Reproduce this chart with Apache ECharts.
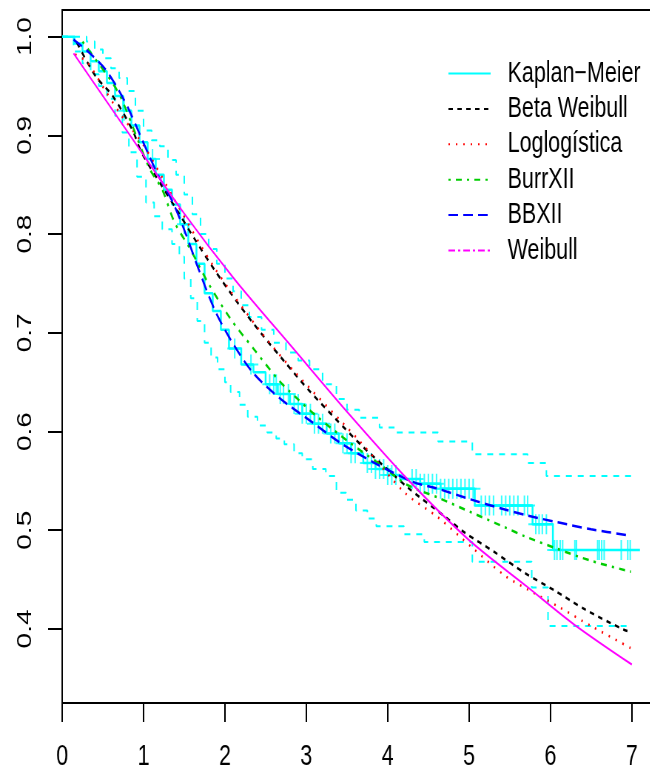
<!DOCTYPE html>
<html>
<head>
<meta charset="utf-8">
<script src="https://cdn.jsdelivr.net/npm/echarts@6/dist/echarts.min.js"></script>
<style>
  html, body { margin: 0; padding: 0; background: #fff; overflow: hidden; }
  #wrap { width: 650px; height: 771px; overflow: hidden; }
  /* the original plot is squeezed horizontally, so the chart is drawn wider and scaled */
  #chart { width: 878px; height: 771px; transform: scaleX(0.74); transform-origin: 0 0; }
</style>
</head>
<body>
<div id="wrap"><div id="chart"></div></div>
<script>
// tick labels
var xTicks = [0, 1, 2, 3, 4, 5, 6, 7];
var yTicks = [0.4, 0.5, 0.6, 0.7, 0.8, 0.9, 1.0];
var legendNames = ['Kaplan\u2212Meier', 'Beta Weibull', 'Loglog\u00edstica', 'BurrXII', 'BBXII', 'Weibull'];

// Kaplan-Meier step curve
var kmTime = [0, 0.15, 0.25, 0.35, 0.45, 0.55, 0.65, 0.75, 0.85, 0.95, 1.05, 1.15, 1.25, 1.35, 1.45, 1.55, 1.65, 1.75, 1.85, 1.95, 2.05, 2.2, 2.35, 2.5, 2.65, 2.8, 2.95, 3.1, 3.25, 3.4, 3.55, 3.7, 3.85, 4.0, 4.15, 4.4, 4.65, 5.07, 5.78, 6.03, 7.1];
var kmSurv = [1.0, 0.993, 0.985, 0.975, 0.965, 0.953, 0.94, 0.925, 0.91, 0.893, 0.876, 0.86, 0.845, 0.83, 0.81, 0.79, 0.77, 0.74, 0.722, 0.703, 0.684, 0.668, 0.66, 0.648, 0.638, 0.628, 0.618, 0.608, 0.598, 0.588, 0.578, 0.568, 0.562, 0.556, 0.552, 0.547, 0.542, 0.525, 0.506, 0.48, 0.48];
// censored times
var censorTime = [0.76, 1.11, 1.5, 2.12, 2.32, 2.55, 2.6, 2.63, 2.68, 2.72, 2.78, 2.85, 2.9, 2.95, 3.0, 3.05, 3.1, 3.15, 3.2, 3.3, 3.35, 3.45, 3.5, 3.55, 3.6, 3.75, 3.8, 3.85, 3.9, 3.95, 4.0, 4.05, 4.1, 4.3, 4.35, 4.4, 4.45, 4.5, 4.55, 4.6, 4.65, 4.7, 4.75, 4.8, 4.85, 4.9, 4.95, 5.0, 5.05, 5.15, 5.2, 5.25, 5.3, 5.4, 5.45, 5.5, 5.55, 5.6, 5.68, 5.72, 5.82, 5.86, 5.9, 5.95, 6.05, 6.08, 6.12, 6.15, 6.3, 6.32, 6.58, 6.6, 6.63, 6.66, 6.87, 6.95, 6.98];
// confidence band
var upTime = [0, 0.3, 0.4, 0.5, 0.6, 0.7, 0.8, 0.9, 1.0, 1.1, 1.2, 1.3, 1.4, 1.5, 1.6, 1.7, 1.8, 1.9, 2.0, 2.1, 2.2, 2.3, 2.45, 2.6, 2.75, 2.9, 3.04, 3.2, 3.37, 3.5, 3.65, 3.9, 4.1, 4.62, 5.04, 5.72, 5.95, 7.0];
var upSurv = [1.0, 0.995, 0.987, 0.978, 0.968, 0.958, 0.945, 0.925, 0.905, 0.895, 0.889, 0.875, 0.86, 0.84, 0.82, 0.8, 0.785, 0.77, 0.755, 0.742, 0.728, 0.716, 0.703, 0.69, 0.68, 0.672, 0.663, 0.648, 0.633, 0.622, 0.614, 0.604, 0.599, 0.59, 0.577, 0.568, 0.555, 0.555];
var loTime = [0, 0.14, 0.25, 0.35, 0.45, 0.55, 0.65, 0.74, 0.82, 0.92, 1.03, 1.13, 1.23, 1.35, 1.44, 1.5, 1.58, 1.66, 1.75, 1.83, 1.91, 2.0, 2.07, 2.18, 2.28, 2.4, 2.52, 2.63, 2.73, 2.85, 2.95, 3.08, 3.24, 3.37, 3.49, 3.61, 3.75, 3.86, 4.2, 4.45, 5.04, 5.77, 5.97, 7.0];
var loSurv = [1.0, 0.985, 0.973, 0.962, 0.95, 0.937, 0.92, 0.903, 0.883, 0.858, 0.832, 0.818, 0.805, 0.79, 0.777, 0.755, 0.735, 0.712, 0.69, 0.675, 0.663, 0.65, 0.64, 0.627, 0.615, 0.606, 0.599, 0.593, 0.587, 0.578, 0.572, 0.562, 0.555, 0.538, 0.531, 0.52, 0.512, 0.504, 0.496, 0.488, 0.468, 0.442, 0.403, 0.403];

// fitted curves
var bwTime = [0.18, 0.41, 0.62, 0.86, 0.98, 1.23, 1.42, 1.62, 1.87, 2.16, 2.44, 2.73, 3.04, 3.37, 3.69, 4.02, 4.25, 4.7, 4.94, 5.31, 5.68, 6.05, 6.42, 6.91, 7.0];
var bwSurv = [0.994, 0.96, 0.94, 0.906, 0.882, 0.848, 0.823, 0.796, 0.764, 0.73, 0.7, 0.671, 0.641, 0.612, 0.585, 0.56, 0.543, 0.514, 0.498, 0.478, 0.457, 0.439, 0.42, 0.399, 0.397];
var llTime = [0.16, 0.31, 0.51, 0.72, 1.0, 1.4, 1.87, 2.44, 2.85, 3.67, 4.21, 4.62, 5.03, 5.44, 5.72, 6.09, 6.5, 7.0];
var llSurv = [0.982, 0.974, 0.948, 0.921, 0.89, 0.832, 0.766, 0.701, 0.661, 0.589, 0.538, 0.513, 0.483, 0.454, 0.44, 0.423, 0.403, 0.38];
var brTime = [0.25, 0.41, 0.62, 0.74, 1.07, 1.23, 1.38, 1.58, 1.79, 2.07, 2.36, 2.65, 2.79, 3.12, 3.53, 3.9, 4.24, 4.62, 5.03, 5.44, 5.68, 6.09, 6.5, 6.99];
var brSurv = [0.995, 0.977, 0.953, 0.935, 0.867, 0.845, 0.812, 0.784, 0.751, 0.714, 0.683, 0.653, 0.641, 0.616, 0.589, 0.567, 0.546, 0.533, 0.518, 0.503, 0.494, 0.481, 0.469, 0.458];
var bbTime = [0.14, 0.33, 0.53, 0.7, 0.82, 0.98, 1.07, 1.19, 1.36, 1.52, 1.66, 1.87, 2.07, 2.34, 2.67, 3.08, 3.41, 3.82, 4.31, 4.62, 5.03, 5.44, 5.71, 6.09, 6.5, 6.95];
var bbSurv = [0.997, 0.984, 0.967, 0.945, 0.926, 0.896, 0.879, 0.858, 0.832, 0.8, 0.768, 0.724, 0.693, 0.66, 0.634, 0.609, 0.589, 0.569, 0.549, 0.542, 0.531, 0.521, 0.515, 0.508, 0.501, 0.495];
var wbTime = [0.14, 0.8, 1.48, 2.12, 2.85, 3.5, 4.24, 5.0, 5.71, 6.3, 7.0];
var wbSurv = [0.983, 0.904, 0.823, 0.754, 0.683, 0.62, 0.552, 0.49, 0.443, 0.404, 0.364];

function pairs(xs, ys) {
  return xs.map(function (x, i) { return [x, ys[i]]; });
}
function kmAt(t) {
  var s = kmSurv[0];
  for (var i = 0; i < kmTime.length; i++) {
    if (kmTime[i] <= t) s = kmSurv[i];
  }
  return s;
}

var font = '"Liberation Sans", Arial, sans-serif';
var plusPath = 'path://M0,9L20,9L20,11L0,11Z M9,0L11,0L11,20L9,20Z';

function curve(name, xs, ys, color, width, dash) {
  return {
    name: name, type: 'line', symbol: 'none', smooth: 0.3,
    data: pairs(xs, ys), color: color,
    lineStyle: { color: color, width: width, type: dash }
  };
}

var chart = echarts.init(document.getElementById('chart'));
chart.setOption({
  animation: false,
  backgroundColor: '#fff',
  grid: { left: 84, right: 0, top: 10, bottom: 67 },
  xAxis: [{
    type: 'value', min: 0, max: 7.22,
    splitLine: { show: false },
    axisLine: { show: true, onZero: false, lineStyle: { color: '#000', width: 2 } },
    axisTick: { show: true, length: 19, customValues: xTicks, lineStyle: { color: '#000', width: 2 } },
    axisLabel: { customValues: xTicks, margin: 39, fontSize: 29, color: '#000', fontFamily: font }
  }, {
    type: 'value', position: 'top', min: 0, max: 7.22,
    splitLine: { show: false },
    axisLine: { show: true, onZero: false, lineStyle: { color: '#000', width: 2 } },
    axisTick: { show: false }, axisLabel: { show: false }
  }],
  yAxis: {
    type: 'value', min: 0.325, max: 1.027,
    splitLine: { show: false },
    axisLine: { show: true, onZero: false, lineStyle: { color: '#000', width: 2 } },
    axisTick: { show: true, length: 19, customValues: yTicks, lineStyle: { color: '#000', width: 2 } },
    axisLabel: {
      customValues: yTicks, rotate: 90, margin: 36, fontSize: 28, color: '#000',
      fontFamily: font,
      formatter: function (v) { return v.toFixed(1); }
    }
  },
  legend: {
    orient: 'vertical', left: 600, top: 54,
    itemWidth: 57, itemHeight: 14, itemGap: 6.4,
    itemStyle: { opacity: 0 },
    textStyle: { fontSize: 29, lineHeight: 29, color: '#000', fontFamily: font, padding: [0, 0, 0, 18] },
    data: [
      { name: legendNames[0] },
      { name: legendNames[1] },
      { name: legendNames[2] },
      { name: legendNames[3] },
      { name: legendNames[4] },
      { name: legendNames[5], lineStyle: { type: [9, 4, 3, 4] } }
    ]
  },
  series: [
    {
      name: 'upper', type: 'line', step: 'end', symbol: 'none', silent: true,
      data: pairs(upTime, upSurv),
      lineStyle: { color: '#00FFFF', width: 2, type: [8, 8] }
    },
    {
      name: 'lower', type: 'line', step: 'end', symbol: 'none', silent: true,
      data: pairs(loTime, loSurv),
      lineStyle: { color: '#00FFFF', width: 2, type: [8, 8] }
    },
    {
      name: legendNames[0], type: 'line', step: 'end', symbol: 'none',
      data: pairs(kmTime, kmSurv),
      color: '#00FFFF',
      lineStyle: { color: '#00FFFF', width: 2.5 }
    },
    {
      name: 'censor', type: 'scatter', symbol: plusPath, symbolSize: [20, 20], silent: true,
      data: censorTime.map(function (t) { return [t, kmAt(t)]; }),
      itemStyle: { color: '#00FFFF' }
    },
    curve(legendNames[1], bwTime, bwSurv, '#000', 2.5, [6, 6]),
    curve(legendNames[2], llTime, llSurv, '#FF0000', 2.5, [2, 8]),
    curve(legendNames[3], brTime, brSurv, '#00CD00', 2.5, [3, 7, 8, 7]),
    curve(legendNames[4], bbTime, bbSurv, '#0000FF', 2.5, [13, 7]),
    curve(legendNames[5], wbTime, wbSurv, '#FF00FF', 2, 'solid')
  ]
});
</script>
</body>
</html>
